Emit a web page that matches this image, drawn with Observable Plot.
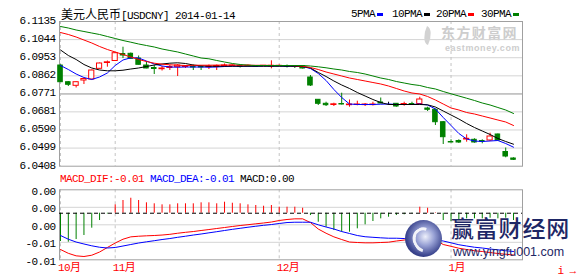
<!DOCTYPE html>
<html>
<head>
<meta charset="utf-8">
<script src="https://cdn.jsdelivr.net/npm/d3@7"></script>
<script src="https://cdn.jsdelivr.net/npm/@observablehq/plot@0.6"></script>
<style>
  html,body{margin:0;padding:0;background:#fff;}
  #wrap{position:relative;width:578px;height:276px;overflow:hidden;background:#fff;}
  #wrap svg{position:absolute;left:0;top:0;}
  .t{position:absolute;white-space:nowrap;font-family:"Liberation Mono",monospace;font-size:11px;letter-spacing:-0.6px;line-height:12px;color:#000;}
  .cjk{font-family:"Noto Sans CJK SC",sans-serif;font-size:12px;letter-spacing:0;line-height:12px;}
  .sw{position:absolute;width:6px;height:3px;}
</style>
</head>
<body>
<div id="wrap"></div>
<script>
// ---- data ----
const titleName = "美元人民币";
const titleCode = "[USDCNY] 2014-01-14";
const legendLabels = ["5PMA", "10PMA", "20PMA", "30PMA"];
const monthTicks = [0, 7, 28, 50];
const monthLabels = ["10月", "11月", "12月", "1月"];
const priceTicks = [6.1135, 6.1044, 6.0953, 6.0862, 6.0771, 6.0681, 6.0590, 6.0499, 6.0408];
const macdTicks = [0.00455, 0.00115, -0.00225, -0.00565, -0.00905];
const macdTickLabels = ["0.00", "0.00", "0.00", "-0.01", "-0.01"];
const macdHeader = ["MACD_DIF:-0.01", "MACD_DEA:-0.01", "MACD:0.00"];

const open = [6.09139, 6.083, 6.08119, 6.08386, 6.08436, 6.08973, 6.09265, 6.09365, 6.09717, 6.09727,
  6.09491, 6.09139, 6.09014, 6.08953, 6.09014, 6.09054, 6.09064, 6.09089, 6.09074, 6.09054,
  6.09064, 6.09089, 6.09114, 6.09114, 6.09104, 6.09114, 6.09104, 6.09089, 6.09104, 6.09114,
  6.09114, 6.09114, 6.08536, 6.07416, 6.07215, 6.07155, 6.07205, 6.07145, 6.07155, 6.0715,
  6.0715, 6.0728, 6.07215, 6.07215, 6.07155, 6.07205, 6.07205, 6.06979, 6.06914, 6.0629,
  6.05296, 6.05346, 6.05421, 6.05406, 6.05346, 6.05371, 6.05673, 6.04793, 6.04467];
const high = [6.09164, 6.08335, 6.0832, 6.08486, 6.08913, 6.09265, 6.09365, 6.09792, 6.10059, 6.09767,
  6.09617, 6.0934, 6.09139, 6.09089, 6.09139, 6.0919, 6.09139, 6.09164, 6.09114, 6.09164,
  6.09164, 6.09215, 6.09174, 6.09139, 6.09164, 6.09139, 6.09139, 6.09375, 6.09164, 6.09164,
  6.09139, 6.09139, 6.08637, 6.07431, 6.07295, 6.07245, 6.07748, 6.07406, 6.07346, 6.0723,
  6.07295, 6.07506, 6.07295, 6.0723, 6.07295, 6.07295, 6.07547, 6.07044, 6.06954, 6.06326,
  6.05406, 6.05406, 6.05658, 6.05457, 6.05406, 6.05738, 6.05698, 6.04994, 6.04502];
const low = [6.08285, 6.08084, 6.08009, 6.08185, 6.08411, 6.08963, 6.09054, 6.0934, 6.09491, 6.09441,
  6.09164, 6.08973, 6.08687, 6.08863, 6.08888, 6.08587, 6.08989, 6.08888, 6.08888, 6.08938,
  6.08888, 6.09054, 6.09089, 6.09014, 6.09089, 6.09039, 6.09089, 6.08973, 6.09089, 6.09014,
  6.08989, 6.08963, 6.08084, 6.0713, 6.07079, 6.07079, 6.07155, 6.07044, 6.07115, 6.07079,
  6.07105, 6.07215, 6.0713, 6.07044, 6.07094, 6.0713, 6.0718, 6.06828, 6.06125, 6.0517,
  6.05256, 6.0522, 6.05286, 6.05236, 6.05205, 6.05321, 6.05346, 6.04502, 6.04366];
const close = [6.083, 6.0817, 6.083, 6.08461, 6.08888, 6.0924, 6.093, 6.09757, 6.09642, 6.09476,
  6.09174, 6.08989, 6.08963, 6.08989, 6.09064, 6.09139, 6.09089, 6.09039, 6.09039, 6.09089,
  6.09114, 6.09139, 6.09139, 6.09064, 6.09129, 6.09089, 6.09124, 6.09124, 6.09124, 6.09089,
  6.09064, 6.08989, 6.08134, 6.07215, 6.07145, 6.0719, 6.0718, 6.0718, 6.0718, 6.0718,
  6.0718, 6.0723, 6.07215, 6.07079, 6.07205, 6.0718, 6.07431, 6.06914, 6.0629, 6.05537,
  6.05271, 6.05271, 6.05457, 6.05271, 6.05306, 6.05572, 6.05371, 6.04567, 6.04401];

const ma5 = [6.09139, 6.08938, 6.08712, 6.08536, 6.08436, 6.08562, 6.08763, 6.09139, 6.09416, 6.09526,
  6.09516, 6.09365, 6.09215, 6.09114, 6.09064, 6.09054, 6.09064, 6.09064, 6.09064, 6.09054,
  6.09064, 6.09089, 6.09104, 6.09104, 6.09104, 6.09104, 6.09114, 6.09114, 6.09114, 6.09104,
  6.09099, 6.09089, 6.08989, 6.08737, 6.08386, 6.07934, 6.07532, 6.07205, 6.0718, 6.0718,
  6.0718, 6.07195, 6.07205, 6.0718, 6.0718, 6.0718, 6.07205, 6.07155, 6.06954, 6.06527,
  6.06125, 6.05723, 6.05447, 6.05346, 6.05321, 6.05346, 6.05371, 6.0522, 6.05035];
const ma10 = [6.09918, 6.09642, 6.09441, 6.0919, 6.09014, 6.08913, 6.08873, 6.08873, 6.08903, 6.08963,
  6.09014, 6.09089, 6.09164, 6.09215, 6.09255, 6.09275, 6.0924, 6.09164, 6.09124, 6.09104,
  6.09104, 6.09104, 6.09104, 6.09104, 6.09104, 6.09104, 6.09104, 6.09104, 6.09104, 6.09104,
  6.09104, 6.09089, 6.09014, 6.08788, 6.08587, 6.08361, 6.0816, 6.07984, 6.07783, 6.07607,
  6.07431, 6.0728, 6.0718, 6.0718, 6.0718, 6.0718, 6.0718, 6.07165, 6.07054, 6.06853,
  6.06652, 6.06451, 6.06225, 6.06024, 6.05848, 6.05673, 6.05472, 6.05321, 6.05185];
const ma20 = [6.10797, 6.10697, 6.10571, 6.1042, 6.1027, 6.10094, 6.09943, 6.09818, 6.09692, 6.09566,
  6.09441, 6.0934, 6.09255, 6.09205, 6.09174, 6.09154, 6.09139, 6.09149, 6.09154, 6.09154,
  6.09159, 6.09159, 6.09159, 6.09154, 6.09154, 6.09149, 6.09149, 6.09144, 6.09139, 6.09139,
  6.09129, 6.09104, 6.09039, 6.08938, 6.08813, 6.08712, 6.08612, 6.08511, 6.08436, 6.08361,
  6.08285, 6.0821, 6.08109, 6.07984, 6.07858, 6.07758, 6.07707, 6.07582, 6.07406, 6.07205,
  6.07004, 6.06904, 6.06778, 6.06703, 6.06602, 6.06502, 6.06401, 6.06301, 6.06125];
const ma30 = [6.11099, 6.11023, 6.10923, 6.10848, 6.10772, 6.10697, 6.10596, 6.10496, 6.10395, 6.1031,
  6.1022, 6.10144, 6.10069, 6.09968, 6.09893, 6.09818, 6.09717, 6.09617, 6.09516, 6.09476,
  6.09391, 6.09315, 6.0924, 6.0919, 6.09154, 6.09139, 6.09139, 6.09139, 6.09139, 6.09139,
  6.09139, 6.09139, 6.09114, 6.09074, 6.09024, 6.08963, 6.08913, 6.08838, 6.08788, 6.08712,
  6.08612, 6.08511, 6.08436, 6.08335, 6.0826, 6.08185, 6.08134, 6.08034, 6.07959, 6.07833,
  6.07717, 6.07607, 6.07496, 6.07381, 6.07255, 6.07155, 6.07029, 6.06904, 6.06728];

const macdBar = [-0.0055, -0.00563, -0.00511, -0.00433, -0.00291, -0.00142, -0.00016, 0.00163, 0.00247, 0.00291,
  0.00247, 0.00202, 0.00183, 0.00163, 0.00163, 0.00183, 0.00183, 0.00183, 0.00202, 0.00202,
  0.00183, 0.00214, 0.00194, 0.00183, 0.00163, 0.0015, 0.00136, 0.0015, 0.00117, 0.00117,
  0.00117, 0.00097, -0.00045, -0.00175, -0.00272, -0.00336, -0.00369, -0.00369, -0.00303, -0.00225,
  -0.00161, -0.00109, -0.00078, -0.00045, -0.00031, -0.00012, 0.00117, 0.00097, 0.0001, -0.00142,
  -0.00161, -0.00142, -0.00109, -0.00109, -0.00109, -0.00097, -0.00109, -0.00097, -0.00142];
const dif = [-0.00705, -0.00779, -0.00828, -0.00841, -0.00816, -0.00754, -0.00666, -0.00579, -0.00505, -0.00459,
  -0.00447, -0.00439, -0.00433, -0.00424, -0.0041, -0.00389, -0.00371, -0.00356, -0.00336, -0.00317,
  -0.00297, -0.00278, -0.00258, -0.00239, -0.00223, -0.00206, -0.0019, -0.00171, -0.00142, -0.00122,
  -0.00109, -0.00109, -0.00181, -0.00307, -0.00389, -0.00459, -0.00511, -0.0056, -0.00569, -0.00575,
  -0.00575, -0.00569, -0.00563, -0.0054, -0.00521, -0.00501, -0.00449, -0.00459, -0.00521, -0.00608,
  -0.00643, -0.0068, -0.00705, -0.00729, -0.00744, -0.00764, -0.00783, -0.00797, -0.00812];
const dea = [-0.00433, -0.00505, -0.0056, -0.00598, -0.00633, -0.00661, -0.00676, -0.00666, -0.00637, -0.00608,
  -0.00579, -0.00556, -0.00534, -0.00511, -0.00492, -0.00468, -0.00447, -0.00424, -0.00404, -0.00381,
  -0.00359, -0.00336, -0.00313, -0.00293, -0.00272, -0.00253, -0.00235, -0.0022, -0.002, -0.00181,
  -0.00175, -0.00175, -0.00175, -0.00225, -0.00268, -0.00307, -0.00356, -0.00394, -0.00433, -0.00457,
  -0.00468, -0.00478, -0.00486, -0.00486, -0.00492, -0.00495, -0.00501, -0.00507, -0.00517, -0.0054,
  -0.00575, -0.00612, -0.00637, -0.00661, -0.00676, -0.00696, -0.00711, -0.00729, -0.00744];

// ---- build ----
const RED = "#ff0000", GREEN = "#008000", BLUE = "#0000ff", BLACK = "#000000";
const legendColors = [BLUE, BLACK, RED, GREEN];
const rows = open.map((o, i) => ({i, o, h: high[i], l: low[i], c: close[i],
  ma5: ma5[i], ma10: ma10[i], ma20: ma20[i], ma30: ma30[i]}));
const macdRows = macdBar.map((m, i) => ({i, m, dif: dif[i], dea: dea[i]}));
const up = rows.filter(d => d.c > d.o);
const dn = rows.filter(d => d.c < d.o);
const eq = rows.filter(d => d.c === d.o);
const xDomain = [-0.13, 59.15];
const hw = 0.33;
const styleStr = "background:transparent;font-family:'Liberation Mono','Noto Sans CJK SC',monospace;font-size:11px;letter-spacing:-0.6px;color:#000;";
const dashed = {stroke: "#c4c4c4", strokeOpacity: 1, strokeDasharray: "3,3"};

const wrap = document.getElementById("wrap");

const pricePlot = Plot.plot({
  width: 578, height: 276,
  marginLeft: 59, marginRight: 56, marginTop: 21, marginBottom: 110.3,
  x: {domain: xDomain, axis: null},
  y: {domain: [priceTicks[priceTicks.length - 1], priceTicks[0]], axis: null},
  style: styleStr,
  marks: [
    Plot.gridY(priceTicks.slice(1, -1), {stroke: "#d4d4d4", strokeOpacity: 1}),
    Plot.ruleY([priceTicks[4]], {stroke: "#a8a8a8"}),
    Plot.gridX(monthTicks, dashed),
    Plot.frame({stroke: "#a0a0a0"}),
    Plot.axisY(priceTicks, {tickSize: 0, tickPadding: 4, tickFormat: d => d.toFixed(4), dy: -1.2, fill: BLACK}),
    Plot.ruleX(up, {x: "i", y1: "l", y2: "h", stroke: RED}),
    Plot.ruleX(dn, {x: "i", y1: "l", y2: "h", stroke: GREEN}),
    Plot.ruleX(eq, {x: "i", y1: "l", y2: "h", stroke: BLACK}),
    Plot.rect(up, {x1: d => d.i - hw, x2: d => d.i + hw, y1: "o", y2: "c", fill: "#ffffff", stroke: RED}),
    Plot.rect(dn, {x1: d => d.i - hw + 0.04, x2: d => d.i + hw - 0.04, y1: "o", y2: "c", fill: GREEN, stroke: GREEN}),
    Plot.rect(eq, {x1: d => d.i - hw, x2: d => d.i + hw, y1: "o", y2: "c", fill: "none", stroke: BLACK}),
    Plot.line(rows, {x: "i", y: "ma5", stroke: BLUE, strokeWidth: 1}),
    Plot.line(rows, {x: "i", y: "ma10", stroke: BLACK, strokeWidth: 1}),
    Plot.line(rows, {x: "i", y: "ma20", stroke: RED, strokeWidth: 1}),
    Plot.line(rows, {x: "i", y: "ma30", stroke: GREEN, strokeWidth: 1})
  ]
});

const macdPlot = Plot.plot({
  width: 578, height: 276,
  marginLeft: 59, marginRight: 56, marginTop: 189.3, marginBottom: 16.7,
  x: {domain: xDomain, axis: null},
  y: {domain: [macdTicks[macdTicks.length - 1], macdTicks[0]], axis: null},
  style: styleStr,
  marks: [
    Plot.gridY(macdTicks.slice(1, -1), {stroke: "#d4d4d4", strokeOpacity: 1}),
    Plot.gridX(monthTicks, dashed),
    Plot.frame({stroke: "#a0a0a0"}),
    Plot.axisY(macdTicks, {tickSize: 0, tickPadding: 4, tickFormat: d => macdTickLabels[macdTicks.indexOf(d)], dy: 1.5, fill: BLACK}),
    Plot.axisX(monthTicks, {tickSize: 0, tickPadding: 3, tickFormat: d => monthLabels[monthTicks.indexOf(d)], textAnchor: "start", dx: -2.5, fill: RED}),
    Plot.ruleX(macdRows, {filter: d => d.m >= 0, x: "i", y1: 0, y2: "m", stroke: RED}),
    Plot.ruleX(macdRows, {filter: d => d.m < 0, x: "i", y1: 0, y2: "m", stroke: GREEN}),
    Plot.ruleY([0], {stroke: BLACK, strokeDasharray: "4,3"}),
    Plot.line(macdRows, {x: "i", y: "dif", stroke: RED, strokeWidth: 1}),
    Plot.line(macdRows, {x: "i", y: "dea", stroke: BLUE, strokeWidth: 1})
  ]
});

// watermark (eastmoney) behind the plots
const em = document.createElement("div");
em.innerHTML =
  '<div style="position:absolute;left:423px;top:27px;width:9px;height:17px;border-radius:0 100% 0 100%;background:#d2d2d2;transform:rotate(25deg);"></div>' +
  '<div style="position:absolute;left:441px;top:25px;font-family:\'Noto Sans CJK SC\';font-weight:700;font-size:14px;line-height:14px;color:#cdcdcd;letter-spacing:1.4px;">东方财富网</div>' +
  '<div style="position:absolute;left:445px;top:43.5px;font-family:\'Liberation Sans\';font-weight:700;font-size:9px;line-height:8px;color:#cdcdcd;letter-spacing:0.6px;">eastmoney.com</div>';
wrap.appendChild(em);

wrap.appendChild(pricePlot);
wrap.appendChild(macdPlot);

// title
const title = document.createElement("div");
title.className = "t";
title.style.left = "61px"; title.style.top = "8px";
title.innerHTML = '<span class="cjk">' + titleName + '</span>' + titleCode;
wrap.appendChild(title);

// legend
const legX = [351, 392, 436, 481];
legendLabels.forEach((lab, k) => {
  const el = document.createElement("div");
  el.className = "t";
  el.style.left = legX[k] + "px"; el.style.top = "8px";
  el.textContent = lab;
  wrap.appendChild(el);
  const sw = document.createElement("div");
  sw.className = "sw";
  sw.style.left = (legX[k] + lab.length * 6 + 2) + "px";
  sw.style.top = "13px";
  sw.style.background = legendColors[k];
  wrap.appendChild(sw);
});

// MACD header
const mh = document.createElement("div");
mh.className = "t";
mh.style.left = "60px"; mh.style.top = "173px";
const mhColors = [RED, BLUE, BLACK];
mh.innerHTML = macdHeader.map((s, k) => '<span style="color:' + mhColors[k] + '">' + s + '</span>').join(" ");
wrap.appendChild(mh);

// yingfu watermark on top
const yf = document.createElement("div");
yf.innerHTML =
  '<div style="position:absolute;left:405px;top:220px;width:37px;height:37px;border-radius:50%;background:radial-gradient(circle at 55% 45%, #eef0fb 0%, #9aa3d6 30%, #3c468f 65%, #161c5c 100%);"></div>' +
  '<div style="position:absolute;left:413px;top:227px;width:17px;height:20px;border-radius:50%;border:3px solid #ffffff;border-right-color:transparent;border-bottom-color:transparent;transform:rotate(-30deg);opacity:0.9;"></div>' +
  '<div style="position:absolute;left:451px;top:216px;font-family:\'Noto Sans CJK SC\';font-weight:500;font-size:23px;line-height:23px;color:#1e2766;letter-spacing:0.8px;">赢富财经网</div>' +
  '<div style="position:absolute;left:453px;top:246px;font-family:\'Liberation Sans\';font-size:12.5px;line-height:12px;color:#1e2766;">www.yingfu001.com</div>';
wrap.appendChild(yf);
</script>
</body>
</html>
